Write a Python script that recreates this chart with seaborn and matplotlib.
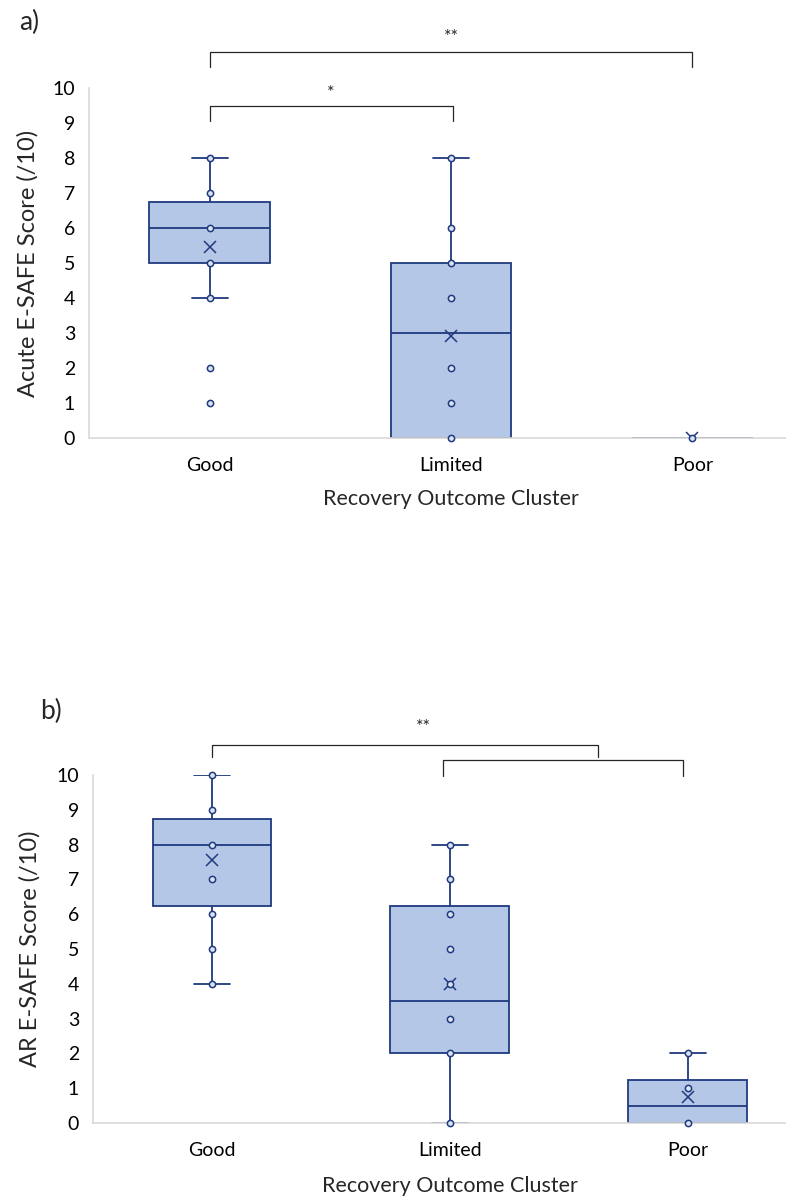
import numpy as np
import pandas as pd
import seaborn as sns
import matplotlib.pyplot as plt

# categories
clusters = ['Good', 'Limited', 'Poor']

# a) acute E-SAFE scores per cluster (read off the chart)
acute_good = [1, 2, 4, 4, 5, 5, 5, 5, 5, 5, 6, 6, 6, 6, 6, 6, 7, 7, 7, 7, 7, 8]
acute_limited = [0, 0, 0, 0, 0, 1, 2, 4, 4, 5, 5, 6, 6, 8]
acute_poor = [0, 0, 0, 0]

# b) AR E-SAFE scores per cluster
ar_good = [4, 5, 5, 6, 6, 7, 7, 8, 8, 8, 8, 8, 8, 9, 9, 10, 10, 10]
ar_limited = [0, 0, 2, 2, 3, 3, 4, 5, 6, 7, 8, 8]
ar_poor = [0, 0, 1, 2]

fill = '#B4C7E7'
navy = '#1F3A7E'
grey = '#D9D9D9'

sns.set_style('white')
plt.rcParams['font.family'] = ['Lato', 'DejaVu Sans']

fig = plt.figure(figsize=(7.86, 12.01), dpi=100)
W, H = 786, 1201


def long_df(good, limited, poor):
    return pd.DataFrame({
        'Cluster': ['Good'] * len(good) + ['Limited'] * len(limited) + ['Poor'] * len(poor),
        'Score': good + limited + poor,
    })


def panel(rect, df, ylabel):
    ax = fig.add_axes(rect)
    sns.boxplot(data=df, x='Cluster', y='Score', order=clusters, ax=ax,
                width=0.5, color=fill, linecolor=navy, linewidth=1.3,
                whis=1.5, showfliers=False, showmeans=True, saturation=1,
                capwidths=0.15,
                meanprops=dict(marker='x', markeredgecolor=navy, markersize=9,
                               markeredgewidth=1.1))
    # inner points: one marker per distinct value
    pts = df.drop_duplicates()
    sns.stripplot(data=pts, x='Cluster', y='Score', order=clusters, ax=ax,
                  jitter=False, size=4.5, color='#DAE3F3', edgecolor=navy,
                  linewidth=1.1, zorder=5, clip_on=False)
    ax.set_xlim(-0.5, 2.5)
    ax.set_ylim(0, 10)
    ax.set_yticks(range(0, 11))
    for s in ['top', 'right']:
        ax.spines[s].set_visible(False)
    for s in ['left', 'bottom']:
        ax.spines[s].set_color(grey)
        ax.spines[s].set_linewidth(1.2)
    ax.tick_params(length=0, labelsize=14, colors='black')
    ax.tick_params(axis='x', pad=14)
    ax.tick_params(axis='y', pad=10)
    ax.set_xlabel('Recovery Outcome Cluster', fontsize=15.5)
    ax.set_ylabel(ylabel, fontsize=17)
    return ax


def bracket(ax, x0, x1, y, drop, txt=None, ty=None):
    ax.plot([x0, x0, x1, x1], [y - drop, y, y, y - drop], color='#262626',
            lw=0.9, clip_on=False, solid_joinstyle='round')
    if txt:
        ax.text(ty[0], ty[1], txt, ha='center', va='center', fontsize=13,
                clip_on=False)


# panel a
axa = panel([89 / W, 1 - 438 / H, (813 - 89) / W, 350 / H],
            long_df(acute_good, acute_limited, acute_poor), 'Acute E-SAFE Score (/10)')
axa.xaxis.set_label_coords(0.5, -51 / 350)
axa.yaxis.set_label_coords(-50 / 724, 0.5)
bracket(axa, 0, 2, 11.03, 0.43, '**', (1.0, 11.45))
bracket(axa, 0, 1.01, 9.5, 0.43, '*', (0.5, 9.86))
fig.text(19 / W, 1 - 22 / H, 'a)', fontsize=19, va='center', ha='left')

# panel b
axb = panel([93 / W, 1 - 1123 / H, (807 - 93) / W, 348 / H],
            long_df(ar_good, ar_limited, ar_poor), 'AR E-SAFE Score (/10)')
axb.xaxis.set_label_coords(0.5, -53 / 348)
axb.yaxis.set_label_coords(-52 / 714, 0.5)
bracket(axb, 0, 1.62, 10.86, 0.35, '**', (0.89, 11.38))
bracket(axb, 0.97, 1.98, 10.43, 0.45)
fig.text(40 / W, 1 - 711 / H, 'b)', fontsize=19, va='center', ha='left')

fig.savefig('out.png', dpi=100)
